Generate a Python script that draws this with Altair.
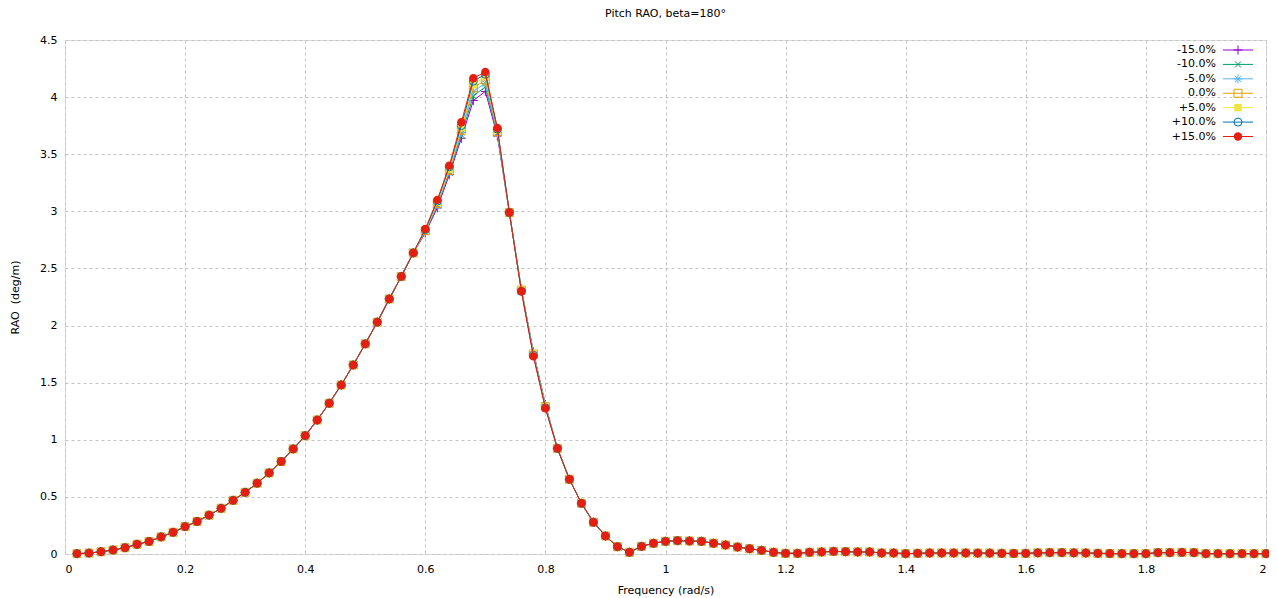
import altair as alt
import pandas as pd

# ---------------- data ----------------
freq = [0.02, 0.04, 0.06, 0.08, 0.10, 0.12, 0.14, 0.16, 0.18, 0.20,
        0.22, 0.24, 0.26, 0.28, 0.30, 0.32, 0.34, 0.36, 0.38, 0.40,
        0.42, 0.44, 0.46, 0.48, 0.50, 0.52, 0.54, 0.56, 0.58, 0.60,
        0.62, 0.64, 0.66, 0.68, 0.70, 0.72, 0.74, 0.76, 0.78, 0.80,
        0.82, 0.84, 0.86, 0.88, 0.90, 0.92, 0.94, 0.96, 0.98, 1.00,
        1.02, 1.04, 1.06, 1.08, 1.10, 1.12, 1.14, 1.16, 1.18, 1.20,
        1.22, 1.24, 1.26, 1.28, 1.30, 1.32, 1.34, 1.36, 1.38, 1.40,
        1.42, 1.44, 1.46, 1.48, 1.50, 1.52, 1.54, 1.56, 1.58, 1.60,
        1.62, 1.64, 1.66, 1.68, 1.70, 1.72, 1.74, 1.76, 1.78, 1.80,
        1.82, 1.84, 1.86, 1.88, 1.90, 1.92, 1.94, 1.96, 1.98, 2.00]

labels = ["-15.0%", "-10.0%", "-5.0%", "0.0%", "+5.0%", "+10.0%", "+15.0%"]
colors = ["#9400d3", "#009e73", "#56b4e9", "#e69f00", "#f0e442", "#0072b2", "#e51e10"]

# shared part of the curves, 0.02 .. 0.58 rad/s
rao_low = [0.003, 0.008, 0.020, 0.035, 0.055, 0.085, 0.110, 0.150, 0.190, 0.240,
           0.285, 0.340, 0.400, 0.470, 0.540, 0.620, 0.710, 0.810, 0.920, 1.036,
           1.173, 1.320, 1.480, 1.655, 1.840, 2.030, 2.233, 2.430, 2.636]

# per-series values around the peak, 0.60 .. 0.80 rad/s
rao_peak_m15 = [2.810, 3.030, 3.320, 3.640, 3.970, 4.050, 3.660, 2.990, 2.320, 1.770, 1.310]
rao_peak_m10 = [2.820, 3.050, 3.340, 3.670, 4.010, 4.090, 3.680, 2.990, 2.320, 1.760, 1.300]
rao_peak_m05 = [2.825, 3.060, 3.350, 3.690, 4.050, 4.120, 3.690, 2.990, 2.310, 1.760, 1.300]
rao_peak_p00 = [2.830, 3.070, 3.360, 3.710, 4.080, 4.150, 3.700, 2.990, 2.310, 1.750, 1.290]
rao_peak_p05 = [2.835, 3.080, 3.370, 3.730, 4.110, 4.180, 3.710, 2.990, 2.310, 1.750, 1.290]
rao_peak_p10 = [2.840, 3.090, 3.390, 3.750, 4.140, 4.200, 3.720, 2.990, 2.300, 1.740, 1.280]
rao_peak_p15 = [2.846, 3.100, 3.400, 3.780, 4.165, 4.220, 3.730, 2.990, 2.300, 1.730, 1.275]

# shared part of the curves, 0.82 .. 2.00 rad/s
rao_high = [0.925, 0.654, 0.444, 0.278, 0.158, 0.064, 0.015, 0.067, 0.094, 0.111,
            0.117, 0.114, 0.111, 0.094, 0.079, 0.061, 0.046, 0.032, 0.015, 0.006,
            0.006, 0.015, 0.018, 0.023, 0.020, 0.018, 0.018, 0.009, 0.009, 0.003,
            0.006, 0.009, 0.009, 0.009, 0.009, 0.008, 0.008, 0.006, 0.005, 0.006,
            0.010, 0.012, 0.012, 0.010, 0.009, 0.006, 0.004, 0.003, 0.003, 0.003,
            0.012, 0.012, 0.014, 0.012, 0.003, 0.003, 0.003, 0.003, 0.003, 0.003]

peaks = [rao_peak_m15, rao_peak_m10, rao_peak_m05, rao_peak_p00,
         rao_peak_p05, rao_peak_p10, rao_peak_p15]

x_ticks = [0, 0.2, 0.4, 0.6, 0.8, 1.0, 1.2, 1.4, 1.6, 1.8, 2.0]
y_ticks = [0, 0.5, 1, 1.5, 2, 2.5, 3, 3.5, 4, 4.5]

# ---------------- styles ----------------
FONT = "DejaVu Sans"
P_PLUS = "M-1,0L1,0M0,-1L0,1"
P_X = "M-0.75,-0.75L0.75,0.75M-0.75,0.75L0.75,-0.75"
P_STAR = "M-1,0L1,0M0,-1L0,1M-0.7,-0.7L0.7,0.7M-0.7,0.7L0.7,-0.7"
shapes = [P_PLUS, P_X, P_STAR, "square", "square", "circle", "circle"]
filled = [False, False, False, False, True, False, True]
sizes = [81, 64, 81, 64, 56, 64, 70]

rows = []
for lab, pk in zip(labels, peaks):
    vals = rao_low + pk + rao_high
    for f, v in zip(freq, vals):
        rows.append({"series": lab, "freq": f, "rao": v})
df = pd.DataFrame(rows)

X = alt.X("freq:Q",
          scale=alt.Scale(domain=[0, 2], nice=False, zero=False),
          axis=alt.Axis(values=x_ticks, format="~g", title="Frequency (rad/s)",
                        grid=True, gridDash=[3, 3], gridColor="#c4c4c4",
                        ticks=False, domain=False, labelPadding=9,
                        labelFont=FONT, labelFontSize=11, labelColor="#000",
                        titleFont=FONT, titleFontSize=11, titleFontWeight="normal",
                        titleColor="#000", titlePadding=10))
Y = alt.Y("rao:Q",
          scale=alt.Scale(domain=[0, 4.5], nice=False, zero=False),
          axis=alt.Axis(values=y_ticks, format="~g", title="RAO\u00a0 (deg/m)",
                        grid=True, gridDash=[3, 3], gridColor="#c4c4c4",
                        ticks=False, domain=False, labelPadding=8,
                        labelFont=FONT, labelFontSize=11, labelColor="#000",
                        titleFont=FONT, titleFontSize=11, titleFontWeight="normal",
                        titleColor="#000", titlePadding=19))

main_layers = []
for i, lab in enumerate(labels):
    base = alt.Chart(df).transform_filter(alt.datum.series == lab)
    main_layers.append(base.mark_line(color=colors[i], strokeWidth=1).encode(x=X, y=Y))
    main_layers.append(base.mark_point(shape=shapes[i], filled=filled[i], color=colors[i],
                                       size=sizes[i], strokeWidth=1, opacity=1)
                       .encode(x=X, y=Y))
main = alt.layer(*main_layers)

# ---------------- legend ----------------
leg = pd.DataFrame({"label": labels, "idx": list(range(len(labels)))})
LY = alt.Y("idx:O", axis=None,
           scale=alt.Scale(type="point", range=[10, 96.5], padding=0))
leg_layers = [
    alt.Chart(leg).mark_text(align="right", baseline="middle", font=FONT,
                             fontSize=11, color="#000")
    .encode(x=alt.value(1151), y=LY, text="label:N")
]
for i, lab in enumerate(labels):
    b = alt.Chart(leg).transform_filter(alt.datum.label == lab)
    leg_layers.append(b.mark_rule(color=colors[i], strokeWidth=1)
                      .encode(x=alt.value(1158), x2=alt.value(1188), y=LY))
    leg_layers.append(b.mark_point(shape=shapes[i], filled=filled[i], color=colors[i],
                                   size=sizes[i], strokeWidth=1, opacity=1)
                      .encode(x=alt.value(1173), y=LY))
legend = alt.layer(*leg_layers)

chart = (
    alt.layer(main, legend)
    .resolve_scale(y="independent")
    .properties(
        width=1201, height=514,
        padding={"left": 57, "top": 32, "right": 3, "bottom": 44},
        autosize=alt.AutoSizeParams(type="none"),
        title=alt.TitleParams("Pitch RAO, beta=180°", font=FONT, fontSize=11,
                              fontWeight="normal", color="#000", anchor="middle",
                              offset=15),
    )
    .configure_view(stroke="#000", strokeWidth=1)
    .configure(background="white")
)

chart.save("out.html", embed_options={"renderer": "svg", "actions": False})
